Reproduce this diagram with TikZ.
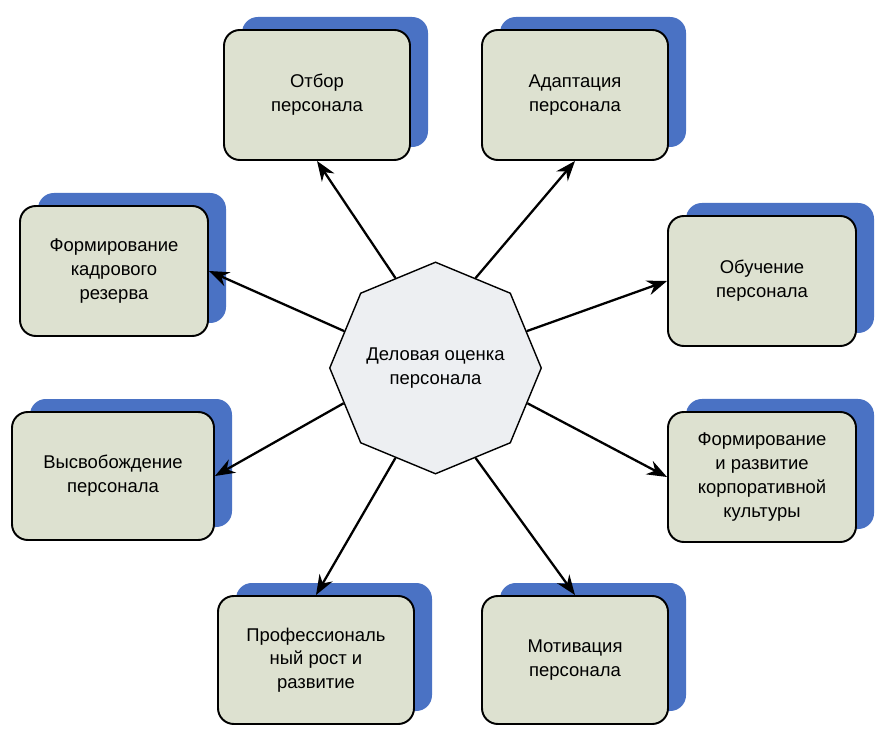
\documentclass[tikz,border=0pt]{standalone}
\usepackage{fontspec}
\setmainfont{Liberation Sans}
\usetikzlibrary{shapes.geometric,shadows,arrows.meta,positioning}
\definecolor{boxfill}{HTML}{DDE1D0}
\definecolor{shadowblue}{HTML}{4A72C4}
\definecolor{octfill}{HTML}{EDEFF2}
\tikzset{
   taskbox/.style={draw=black,line width=1.1pt,rounded corners=9pt,fill=boxfill,
      minimum width=3.72cm,minimum height=2.6cm,align=center,
      font=\fontsize{10.5}{13.5}\selectfont,
      general shadow={fill=shadowblue,shadow xshift=.36cm,shadow yshift=.26cm}},
   centre/.style={draw=black,line width=0.8pt,fill=octfill,regular polygon,
      regular polygon sides=8,shape border rotate=22.5,minimum size=3.95cm,
      align=center,font=\fontsize{10.5}{13.5}\selectfont,inner sep=0pt},
   arr/.style={-{Stealth[length=4mm,width=3mm]},line width=1.3pt},
}
\begin{document}
\begin{tikzpicture}
      \useasboundingbox (0,0) rectangle (17.52,-14.76);
      \node (oct) at (8.71,-7.36) [centre] {Деловая оценка\\персонала};

      \node (otbor) at (6.34,-1.9) [taskbox] {Отбор\\персонала};
      \node (adapt) at (11.5,-1.9) [taskbox] {Адаптация\\персонала};
      \node (rezerv) at (2.28,-5.42) [taskbox,minimum width=3.76cm] {Формирование\\кадрового\\резерва};
      \node (obuch) at (15.24,-5.62) [taskbox,minimum width=3.76cm] {Обучение\\персонала};
      \node (vysv) at (2.26,-9.52) [taskbox,minimum width=4.04cm,minimum height=2.56cm] {Высвобождение\\персонала};
      \node (kult) at (15.24,-9.54) [taskbox,minimum width=3.76cm] {Формирование\\и развитие\\корпоративной\\культуры};
      \node (prof) at (6.32,-13.2) [taskbox,minimum width=3.92cm,minimum height=2.56cm] {Профессиональ\\ный рост и\\развитие};
      \node (motiv) at (11.5,-13.2) [taskbox,minimum height=2.56cm] {Мотивация\\персонала};

      \draw [arr] (oct.114) -- (otbor.south);
      \draw [arr] (oct.66) -- (adapt.south);
      \draw [arr] (oct.158) -- (rezerv.east);
      \draw [arr] (oct.22) -- (obuch.west);
      \draw [arr] (oct.201) -- (vysv.east);
      \draw [arr] (oct.339) -- (kult.west);
      \draw [arr] (oct.246) -- (prof.north);
      \draw [arr] (oct.294) -- (motiv.north);
\end{tikzpicture}
\end{document}
